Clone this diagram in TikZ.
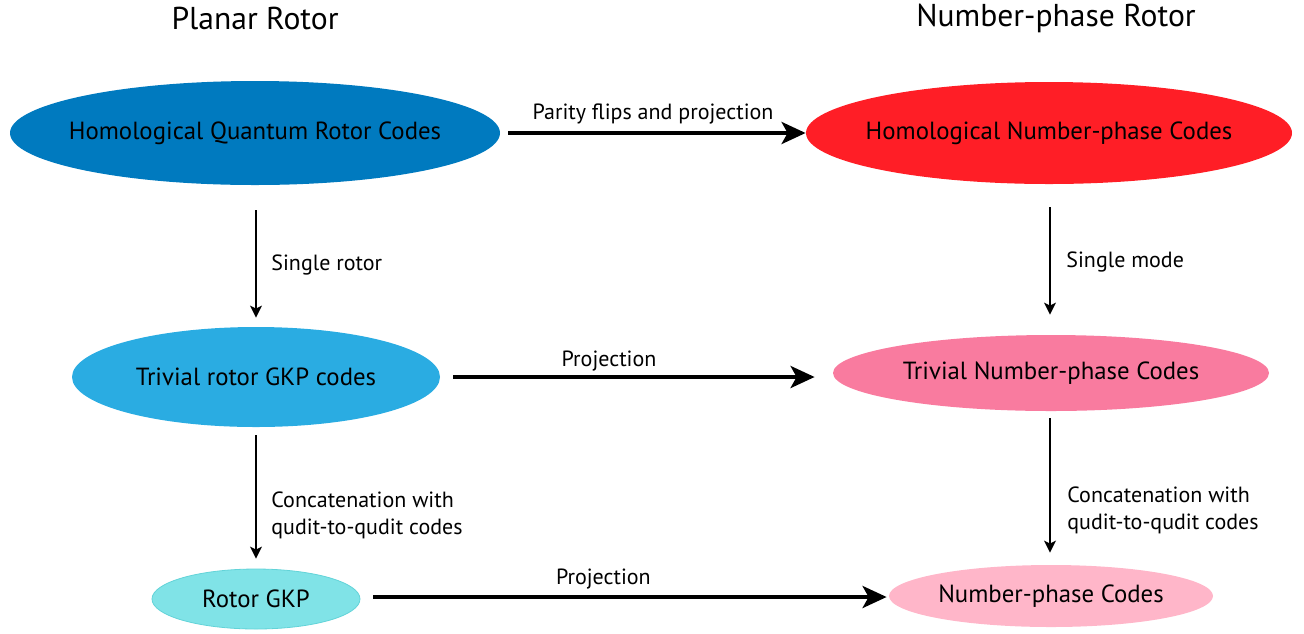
\documentclass[tikz,border=0pt]{standalone}
\usepackage{fontspec}
\setmainfont{PT Sans}
\usetikzlibrary{shapes.geometric,arrows.meta}
\definecolor{cA}{HTML}{007ABF}
\definecolor{cB}{HTML}{FF1E26}
\definecolor{cC}{HTML}{2AACE2}
\definecolor{cD}{HTML}{F97B9F}
\definecolor{cE}{HTML}{80E3E7}
\definecolor{cEb}{HTML}{62D3D8}
\definecolor{cF}{HTML}{FFB6C9}
\newcommand{\ovaltext}[1]{\makebox[0pt]{#1}}
\tikzset{
  oval/.style={ellipse, inner sep=0pt, font=\fontsize{12.4}{14}\selectfont, text=black},
  title/.style={font=\fontsize{15.8}{18}\selectfont},
  lab/.style={font=\fontsize{11}{13.5}\selectfont, inner sep=0pt},
  bigarrow/.style={line width=2pt, -{Stealth[length=12pt,width=11pt,inset=3pt]}},
  smallarrow/.style={line width=0.7pt, -{Stealth[length=6pt,width=6pt,inset=1.5pt]}}
}
\begin{document}
\begin{tikzpicture}[x=0.5pt,y=-0.5pt]
\useasboundingbox (0,0) rectangle (1304,633);
\node[title] (t1) at (255,18) {Planar Rotor};
\node[title] (t2) at (1056,18) {Number-phase Rotor};

\node[oval, fill=cA, minimum width=245pt, minimum height=52pt] (a) at (255,133) {\ovaltext{Homological Quantum Rotor Codes}};
\node[oval, fill=cB, minimum width=243pt, minimum height=51pt] (b) at (1049,133) {\ovaltext{Homological Number-phase Codes}};
\node[oval, fill=cC, minimum width=184pt, minimum height=50pt] (c) at (256,377) {\ovaltext{Trivial rotor GKP codes}};
\node[oval, fill=cD, minimum width=218pt, minimum height=38pt] (d) at (1051,373) {\ovaltext{Trivial Number-phase Codes}};
\node[oval, fill=cE, draw=cEb, line width=0.4pt, minimum width=104pt, minimum height=30pt] (e) at (256,599) {\ovaltext{Rotor GKP}};
\node[oval, fill=cF, minimum width=162pt, minimum height=31pt] (f) at (1051,596) {\ovaltext{Number-phase Codes}};

\draw[bigarrow, shorten <=4pt, shorten >=0pt] (a.east) -- (b.west) node[lab, midway, above=3.5pt] (l1) {Parity flips and projection};
\draw[bigarrow, shorten <=6.5pt, shorten >=9pt] (c.east |- 0,377) -- (d.west |- 0,377) node[lab, pos=0.43, above=2pt] (l2) {Projection};
\draw[bigarrow, shorten <=6.5pt, shorten >=1pt] (e.east |- 0,597) -- (f.west |- 0,597) node[lab, pos=0.46, above=3pt] (l3) {Projection};

\draw[smallarrow, shorten <=12.5pt, shorten >=4.5pt] (a.south -| 256,0) -- (c.north);
\draw[smallarrow, shorten <=11.5pt, shorten >=10pt] (b.south -| 1050,0) -- (d.north -| 1050,0);
\draw[smallarrow, shorten <=4pt, shorten >=5pt] (c.south) -- (e.north);
\draw[smallarrow, shorten <=3.5pt, shorten >=6pt] (d.south -| 1050,0) -- (f.north -| 1050,0);

\node[lab, anchor=west] (s1) at (271,265) {Single rotor};
\node[lab, anchor=west] (s2) at (1066,262) {Single mode};
\node[lab, anchor=west, align=left] (s3) at (271,515) {Concatenation with\\qudit-to-qudit codes};
\node[lab, anchor=west, align=left] (s4) at (1067,510) {Concatenation with\\qudit-to-qudit codes};
\end{tikzpicture}
\end{document}
